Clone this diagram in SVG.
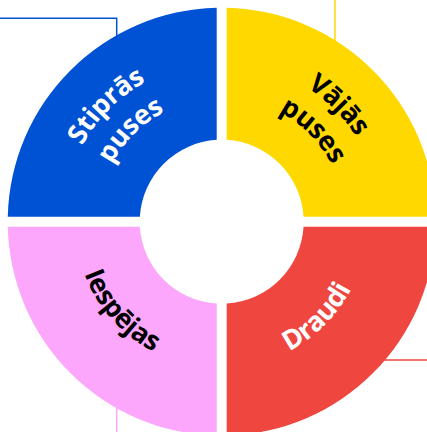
<svg xmlns="http://www.w3.org/2000/svg" xmlns:xlink="http://www.w3.org/1999/xlink" width="427" height="432" viewBox="0 0 427 432">
  <style>
    .lbl { font-family: "Open Sans", "Noto Sans", "Liberation Sans", sans-serif; font-weight: 700; font-size: 27px; letter-spacing: -0.4px; }
    .w { fill: #ffffff; }
    .k { fill: #000000; }
    .ln { fill: none; stroke-width: 1.5; }
  </style>
  <defs>
    <path id="pS1" d="M 68.12 262.85 A 159 159 0 0 1 262.85 68.12"/>
    <path id="pS2" d="M 101.93 253.79 A 124 124 0 0 1 253.79 101.93"/>
    <path id="pV1" d="M 180.55 68.12 A 159 159 0 0 1 375.28 262.85"/>
    <path id="pV2" d="M 189.61 101.93 A 124 124 0 0 1 341.47 253.79"/>
    <path id="pI" d="M 82.30 175.06 A 147 147 0 0 0 251.01 365.75"/>
    <path id="pD" d="M 183.91 362.72 A 146 146 0 0 0 362.72 183.91"/>
  </defs>
  <rect width="427" height="432" fill="#ffffff"/>
  <g id="connectors">
    <polyline class="ln" stroke="#0052D4" points="0,18.3 116.7,18.3 116.7,45"/>
    <line class="ln" stroke="#FFD800" x1="335" y1="0" x2="335" y2="50"/>
    <line class="ln" stroke="#FCA6FC" x1="116.7" y1="400" x2="116.7" y2="432"/>
    <line class="ln" stroke="#EF463F" x1="375" y1="360" x2="427" y2="360"/>
  </g>
  <g id="strengths">
    <path fill="#0052D4" d="M 216.7 7.76 A 214 214 0 0 0 7.76 216.7 L 139.85 216.7 A 82 82 0 0 1 216.7 139.85 Z"/>
    <text class="lbl w" text-anchor="middle"><textPath xlink:href="#pS1" href="#pS1" startOffset="50%">Stiprās</textPath></text>
    <text class="lbl w" text-anchor="middle"><textPath xlink:href="#pS2" href="#pS2" startOffset="50%">puses</textPath></text>
  </g>
  <g id="weaknesses">
    <path fill="#FFD800" d="M 226.7 7.76 A 214 214 0 0 1 435.64 216.7 L 303.55 216.7 A 82 82 0 0 0 226.7 139.85 Z"/>
    <text class="lbl k" text-anchor="middle"><textPath xlink:href="#pV1" href="#pV1" startOffset="50%">Vājās</textPath></text>
    <text class="lbl k" text-anchor="middle"><textPath xlink:href="#pV2" href="#pV2" startOffset="50%">puses</textPath></text>
  </g>
  <g id="opportunities">
    <path fill="#FCA6FC" d="M 216.7 435.64 A 214 214 0 0 1 7.76 226.7 L 139.85 226.7 A 82 82 0 0 0 216.7 303.55 Z"/>
    <text class="lbl k" text-anchor="middle"><textPath xlink:href="#pI" href="#pI" startOffset="50%">Iespējas</textPath></text>
  </g>
  <g id="threats">
    <path fill="#EF463F" d="M 435.64 226.7 A 214 214 0 0 1 226.7 435.64 L 226.7 303.55 A 82 82 0 0 0 303.55 226.7 Z"/>
    <text class="lbl w" text-anchor="middle"><textPath xlink:href="#pD" href="#pD" startOffset="50%">Draudi</textPath></text>
  </g>
</svg>
